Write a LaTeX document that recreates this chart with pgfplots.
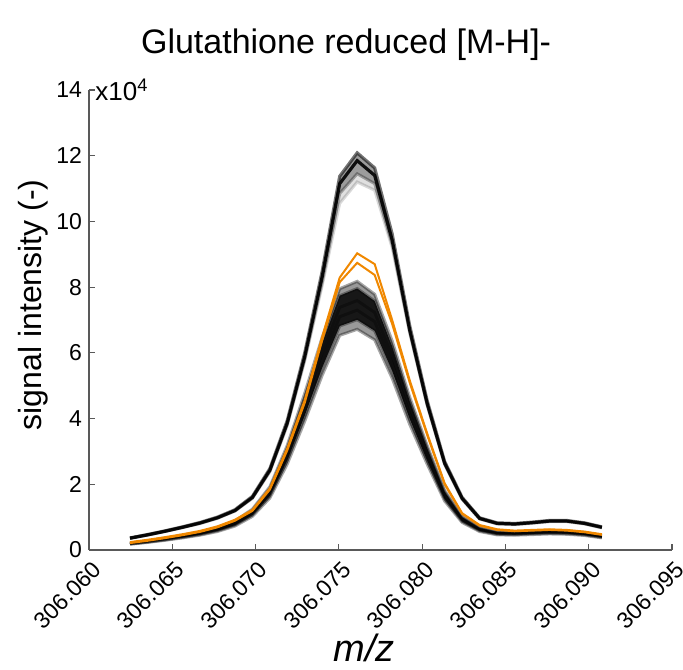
\documentclass[border=0pt]{standalone}
\usepackage{pgfplots}
\pgfplotsset{compat=1.18}
\usepgfplotslibrary{fillbetween}
\usepackage{pgfplotstable}
\usepackage{fontspec}
\setmainfont{Liberation Sans}
\definecolor{myorange}{RGB}{240,136,0}
% x is given as (m/z - 306.060) * 1000, i.e. mDa above 306.060
\pgfplotstableread{
x L1 L2 L3 L4 L5 L6 U1 U2 U3 U4 O1 O2
2.46 0.175 0.182 0.19 0.198 0.207 0.213 0.367 0.36 0.355 0.35 0.24 0.21
3.51 0.23 0.24 0.25 0.26 0.273 0.28 0.469 0.46 0.455 0.45 0.31 0.28
4.56 0.294 0.307 0.32 0.333 0.349 0.358 0.581 0.57 0.565 0.56 0.39 0.36
5.61 0.368 0.384 0.40 0.416 0.436 0.448 0.704 0.69 0.685 0.68 0.48 0.45
6.66 0.451 0.470 0.49 0.510 0.534 0.549 0.836 0.82 0.81 0.80 0.58 0.55
7.71 0.561 0.586 0.61 0.634 0.665 0.683 1.0 0.98 0.97 0.96 0.72 0.69
8.76 0.727 0.758 0.79 0.822 0.861 0.885 1.224 1.20 1.19 1.18 0.92 0.89
9.81 1.021 1.066 1.11 1.154 1.210 1.243 1.632 1.60 1.58 1.57 1.22 1.19
10.86 1.582 1.651 1.72 1.789 1.875 1.926 2.479 2.43 2.40 2.38 1.88 1.84
11.90 2.613 2.726 2.84 2.954 3.096 3.181 3.937 3.86 3.82 3.78 3.09 3.03
12.95 3.919 4.090 4.26 4.430 4.643 4.771 5.998 5.88 5.80 5.75 4.56 4.48
14.00 5.318 5.549 5.78 6.011 6.300 6.474 8.486 8.32 8.15 8.05 6.49 6.38
15.05 6.532 6.816 7.10 7.384 7.739 7.952 11.373 11.15 10.85 10.55 8.29 8.15
16.10 6.716 7.008 7.30 7.592 7.957 8.176 12.087 11.85 11.45 11.20 9.03 8.74
17.15 6.394 6.672 6.95 7.228 7.576 7.784 11.628 11.40 11.15 10.95 8.70 8.37
18.20 5.226 5.453 5.68 5.907 6.191 6.362 9.619 9.43 9.30 9.20 7.00 6.88
19.25 3.827 3.994 4.16 4.326 4.534 4.659 6.834 6.70 6.65 6.60 5.17 5.10
20.30 2.613 2.726 2.84 2.954 3.096 3.181 4.549 4.46 4.42 4.40 3.55 3.50
21.35 1.490 1.555 1.62 1.685 1.766 1.814 2.693 2.64 2.62 2.60 2.03 2.00
22.40 0.837 0.874 0.91 0.946 0.992 1.019 1.601 1.57 1.55 1.54 1.12 1.10
23.45 0.561 0.586 0.61 0.634 0.665 0.683 0.979 0.96 0.95 0.94 0.76 0.74
24.50 0.46 0.48 0.50 0.52 0.545 0.56 0.826 0.81 0.80 0.79 0.63 0.61
25.55 0.451 0.470 0.49 0.510 0.534 0.549 0.806 0.79 0.78 0.77 0.59 0.57
26.59 0.469 0.490 0.51 0.530 0.556 0.571 0.847 0.83 0.82 0.81 0.61 0.59
27.64 0.488 0.509 0.53 0.551 0.578 0.594 0.898 0.88 0.87 0.86 0.63 0.61
28.69 0.478 0.499 0.52 0.541 0.567 0.582 0.898 0.88 0.87 0.86 0.61 0.59
29.74 0.442 0.461 0.48 0.499 0.523 0.538 0.826 0.81 0.80 0.79 0.56 0.54
30.79 0.368 0.384 0.40 0.416 0.436 0.448 0.704 0.69 0.68 0.67 0.48 0.46
}\data
\begin{document}
\begin{tikzpicture}
\begin{axis}[
  scale only axis, width=291.5pt, height=230pt,
  xmin=0, xmax=35, ymin=0, ymax=14,
  axis x line*=bottom, axis y line*=left,
  axis line style={black!65, line width=0.6pt},
  xtick={0,5,...,35},
  xticklabels={306.060,306.065,306.070,306.075,306.080,306.085,306.090,306.095},
  ytick={0,2,...,14},
  tick align=inside, major tick length=3pt,
  tick style={black!65, line width=0.6pt},
  xticklabel style={xshift=1pt, rotate=45, anchor=north east, font=\fontsize{11.5}{13}\selectfont},
  yticklabel style={font=\fontsize{11.5}{13}\selectfont},
  /pgf/number format/assume math mode=true,
  clip=false,
]
% named (invisible) outlines for the shaded bundles
\addplot[name path=pL1, draw=none] table[x=x, y=L1] {\data};
\addplot[name path=pL2, draw=none] table[x=x, y=L2] {\data};
\addplot[name path=pL5, draw=none] table[x=x, y=L5] {\data};
\addplot[name path=pL6, draw=none] table[x=x, y=L6] {\data};
\addplot[name path=pU1, draw=none] table[x=x, y=U1] {\data};
\addplot[name path=pU3, draw=none] table[x=x, y=U3] {\data};
\addplot[name path=pU4, draw=none] table[x=x, y=U4] {\data};
\addplot[black, opacity=0.4] fill between[of=pL1 and pL6];
\addplot[black, opacity=0.85] fill between[of=pL2 and pL5];
\addplot[black, opacity=0.12] fill between[of=pU1 and pU4];
\addplot[black, opacity=0.3] fill between[of=pU1 and pU3];
\pgfplotsinvokeforeach{L1,L2,L3,L4,L5,L6}{
  \addplot[black, opacity=0.35, line width=1.5pt] table[x=x, y=#1] {\data};
}
\addplot[black, opacity=0.55, line width=1.6pt] table[x=x, y=U1] {\data};
\addplot[black, opacity=0.9, line width=1.6pt] table[x=x, y=U2] {\data};
\addplot[black, opacity=0.3, line width=1.5pt] table[x=x, y=U3] {\data};
\addplot[black, opacity=0.15, line width=1.5pt] table[x=x, y=U4] {\data};
\addplot[myorange, line width=1pt] table[x=x, y=O1] {\data};
\addplot[myorange, line width=1pt] table[x=x, y=O2] {\data};
\node[font=\fontsize{17}{20}\selectfont] at (rel axis cs:0.441,1.098) {Glutathione reduced [M-H]-};
\node[rotate=90, font=\fontsize{16}{19}\selectfont] at (rel axis cs:-0.096,0.533) {signal intensity (-)};
\node[font=\fontsize{19}{22}\selectfont\itshape] at (rel axis cs:0.472,-0.213) {m/z};
\node[anchor=west, inner sep=0pt, font=\fontsize{13}{15}\selectfont] at (rel axis cs:0,1) [xshift=3pt] {x10\textsuperscript{4}};
\coordinate (bl) at (rel axis cs:-0.1527,-0.2609);
\coordinate (tr) at (rel axis cs:1.0189,1.1957);
\end{axis}
\pgfresetboundingbox
\useasboundingbox (bl) rectangle (tr);
\end{tikzpicture}
\end{document}
